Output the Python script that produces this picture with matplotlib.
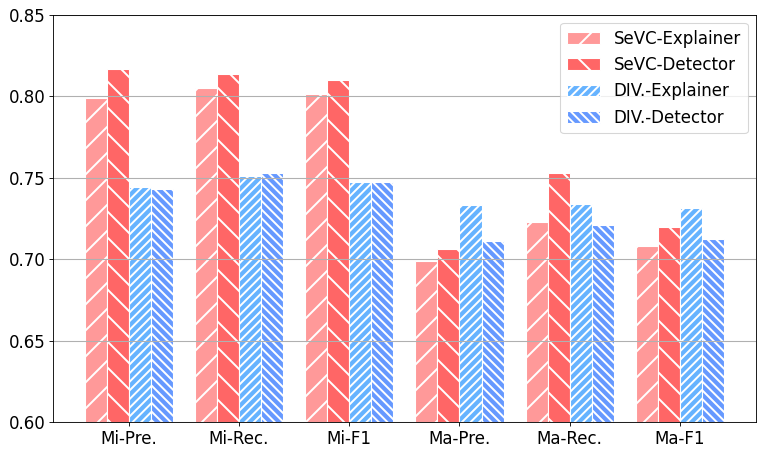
import matplotlib.pyplot as plt
import numpy as np

categories = ['Mi-Pre.', 'Mi-Rec.', 'Mi-F1', 'Ma-Pre.', 'Ma-Rec.', 'Ma-F1']
series_names = ['SeVC-Explainer', 'SeVC-Detector', 'DIV.-Explainer', 'DIV.-Detector']
sevc_explainer = [0.799, 0.805, 0.801, 0.699, 0.723, 0.708]
sevc_detector = [0.8165, 0.8135, 0.810, 0.706, 0.753, 0.7196]
div_explainer = [0.744, 0.751, 0.7475, 0.733, 0.734, 0.7315]
div_detector = [0.7428, 0.7525, 0.7475, 0.711, 0.7206, 0.712]

colors = ['#FF9999', '#FF6666', '#66B3FF', '#6699FF']
hatches = ['/', '\\', '///', '\\\\\\']

# low dpi so the hatch spacing matches the original
DPI = 78
plt.rcParams['font.size'] = 12 * 100 / DPI
plt.rcParams['hatch.linewidth'] = 1.8
plt.rcParams['grid.linewidth'] = 1.0

fig = plt.figure(figsize=(764 / DPI, 454 / DPI), dpi=DPI)
ax = fig.add_axes([0.069, 0.0705, 0.9205, 0.8975])

x = np.arange(len(categories))
width = 0.2
all_series = [sevc_explainer, sevc_detector, div_explainer, div_detector]
for i, vals in enumerate(all_series):
    ax.bar(x + (i - 1.5) * width, vals, width, label=series_names[i],
           color=colors[i], edgecolor='white', hatch=hatches[i])

ax.set_xticks(x)
ax.set_xticklabels(categories)
ax.set_ylim(0.60, 0.85)
ax.grid(axis='y')
ax.legend(loc='upper right')

fig.savefig('out.png', dpi=DPI)
